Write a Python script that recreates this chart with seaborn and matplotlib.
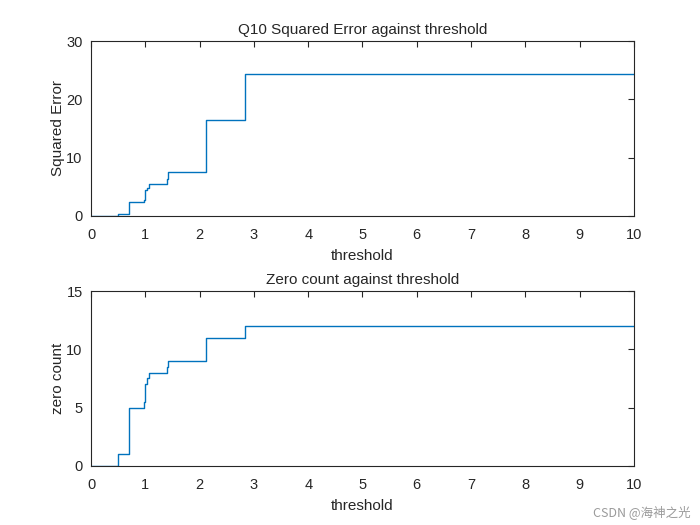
import matplotlib
matplotlib.use("Agg")
import matplotlib.pyplot as plt
import seaborn as sns
import pandas as pd

# Datos
umbral = [0, 0.5, 0.7, 0.98, 1.0, 1.04, 1.06, 1.40, 1.42, 2.12, 2.83, 10]
error_cuadratico = [0, 0.3, 2.4, 2.8, 4.4, 4.8, 5.4, 6.3, 7.5, 16.4, 24.4, 24.4]
conteo_ceros = [0, 1, 5, 5.5, 7, 7.5, 8, 8.5, 9, 11, 12, 12]

xticks = list(range(0, 11))
yticks_error = [0, 10, 20, 30]
yticks_ceros = [0, 5, 10, 15]

df = pd.DataFrame({"threshold": umbral, "err": error_cuadratico, "zeros": conteo_ceros})

sns.set_style("white")
plt.rcParams["font.family"] = ["Liberation Sans", "Noto Sans CJK SC", "DejaVu Sans"]
plt.rcParams.update({
    "text.color": "#262626",
    "axes.labelcolor": "#262626",
    "xtick.color": "#262626",
    "ytick.color": "#262626",
    "axes.edgecolor": "#262626",
})

fig = plt.figure(figsize=(7, 5.25), dpi=100)
ax1 = fig.add_axes([0.13, 0.5886, 0.7757, 0.3333])
ax2 = fig.add_axes([0.13, 0.1124, 0.7757, 0.3333])

color = "#0072BD"

def estilo(ax, ycol, yticks, titulo, ylabel):
    sns.lineplot(data=df, x="threshold", y=ycol, ax=ax, color=color,
                 linewidth=1.0, drawstyle="steps-post")
    ax.set_xlim(0, 10)
    ax.set_ylim(yticks[0], yticks[-1])
    ax.set_xticks(xticks)
    ax.set_yticks(yticks)
    ax.set_title(titulo, fontsize=11, pad=5)
    ax.set_xlabel("threshold", fontsize=11, labelpad=5)
    ax.set_ylabel(ylabel, fontsize=11, labelpad=1)
    ax.tick_params(direction="in", length=4, width=0.8, top=True, right=True,
                   labelsize=10.5)
    ax.tick_params(axis="x", pad=9)
    ax.tick_params(axis="y", pad=6)
    for s in ax.spines.values():
        s.set_linewidth(0.8)
        s.set_visible(True)

estilo(ax1, "err", yticks_error, "Q10 Squared Error against threshold", "Squared Error")
estilo(ax2, "zeros", yticks_ceros, "Zero count against threshold", "zero count")

fig.text(0.986, 0.012, "CSDN @海神之光", ha="right", va="bottom", fontsize=9,
         color="#9a9a9a", family=["Noto Sans CJK SC", "DejaVu Sans"])

fig.savefig("out.png", dpi=100, facecolor="white")
